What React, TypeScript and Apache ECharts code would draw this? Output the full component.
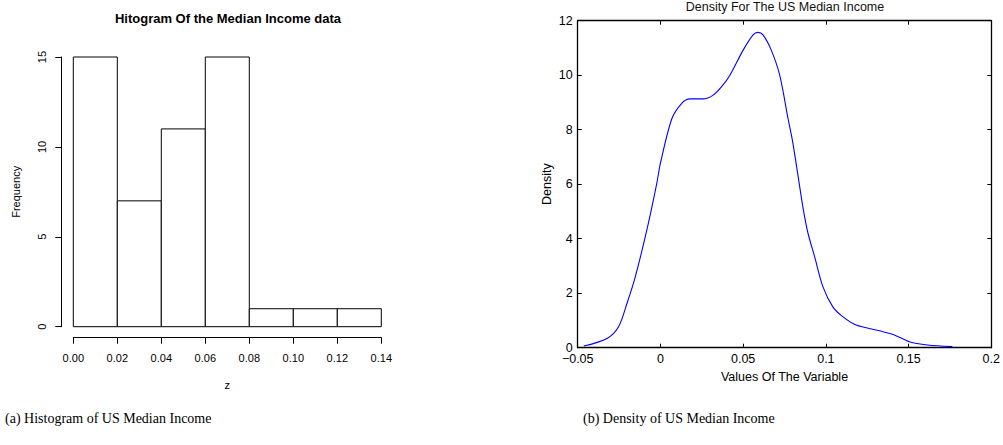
import React, { useEffect, useRef } from "react";
import * as echarts from "echarts";

// Histogram data
const binEdges = [0.0, 0.02, 0.04, 0.06, 0.08, 0.1, 0.12, 0.14];
const binCounts = [15, 7, 11, 15, 1, 1, 1];

// Density curve
const densityX = [
  -0.0463, -0.0323, -0.0253, -0.0202, -0.0152, -0.0082, -0.0022, 0.0, 0.0069, 0.0129,
  0.0179, 0.0259, 0.0319, 0.037, 0.042, 0.05, 0.056, 0.059, 0.062, 0.067,
  0.0721, 0.0771, 0.0801, 0.0861, 0.0892, 0.0932, 0.0982, 0.1042, 0.1102, 0.1183,
  0.1323, 0.1414, 0.1504, 0.1614, 0.1765,
];
const densityY = [
  0.06, 0.34, 0.77, 1.63, 2.6, 4.32, 6.03, 6.77, 8.4, 8.97,
  9.13, 9.13, 9.27, 9.58, 10.0, 10.92, 11.48, 11.57, 11.48, 10.92,
  10.0, 8.42, 7.5, 5.17, 4.2, 3.34, 2.24, 1.5, 1.14, 0.83,
  0.62, 0.47, 0.22, 0.1, 0.04,
];

const leftTitle = "Hitogram Of the Median Income data";
const rightTitle = "Density For The US Median Income";
const captionA = "(a) Histogram of US Median Income";
const captionB = "(b) Density of US Median Income";

const SANS = "'Liberation Sans', Arial, Helvetica, sans-serif";
const SERIF = "'Liberation Serif', 'DejaVu Serif', serif";

export default function App() {
  const ref = useRef<HTMLDivElement>(null);
  useEffect(() => {
    if (!ref.current) return;
    const chart = echarts.init(ref.current, null, { renderer: "svg" });
    const histData = binCounts.map((c, i) => [binEdges[i], binEdges[i + 1], c]);
    const densData = densityX.map((x, i) => [x, densityY[i]]);
    const txt = { color: "#000", fontFamily: SANS };
    const fmtRight = (v: number) => {
      if (Math.abs(v) < 1e-9) return "0";
      const s = String(+Math.abs(v).toFixed(2));
      return (v < 0 ? "\u2212" : "") + s;
    };
    chart.setOption({
      animation: false,
      backgroundColor: "#fff",
      grid: [
        { left: 73.3, top: 57, width: 308, height: 269.7 },
        { left: 577.7, top: 20.7, width: 415, height: 327 },
      ],
      xAxis: [
        {
          type: "value", gridIndex: 0, min: 0, max: 0.14, interval: 0.02, offset: 11,
          name: "z", nameLocation: "middle", nameGap: 42,
          nameTextStyle: { ...txt, fontSize: 11 },
          axisLine: { show: true, onZero: false, lineStyle: { color: "#000", width: 1 } },
          axisTick: { show: true, length: 6, lineStyle: { color: "#000" } },
          axisLabel: { ...txt, fontSize: 11, margin: 15, formatter: (v: number) => v.toFixed(2) },
          splitLine: { show: false },
        },
        {
          type: "value", gridIndex: 1, min: -0.05, max: 0.2, interval: 0.05,
          name: "Values Of The Variable", nameLocation: "middle", nameGap: 17,
          nameTextStyle: { ...txt, fontSize: 12.5 },
          axisLine: { show: true, onZero: false, lineStyle: { color: "#000", width: 1.3 } },
          axisTick: { show: true, inside: true, length: 4, lineStyle: { color: "#000" } },
          axisLabel: { ...txt, fontSize: 12.5, lineHeight: 11, margin: 6, formatter: fmtRight },
          splitLine: { show: false },
        },
        {
          type: "value", gridIndex: 1, position: "top", min: -0.05, max: 0.2, interval: 0.05,
          axisLine: { show: true, onZero: false, lineStyle: { color: "#000", width: 1.3 } },
          axisTick: { show: true, inside: true, length: 4, lineStyle: { color: "#000" } },
          axisLabel: { show: false },
          splitLine: { show: false },
        },
      ],
      yAxis: [
        {
          type: "value", gridIndex: 0, min: 0, max: 15, interval: 5, offset: 12,
          name: "Frequency", nameLocation: "middle", nameGap: 40,
          nameTextStyle: { ...txt, fontSize: 11 },
          axisLine: { show: true, onZero: false, lineStyle: { color: "#000", width: 1 } },
          axisTick: { show: true, length: 6, lineStyle: { color: "#000" } },
          axisLabel: { ...txt, fontSize: 11, margin: 14, rotate: 90 },
          splitLine: { show: false },
        },
        {
          type: "value", gridIndex: 1, min: 0, max: 12, interval: 2,
          name: "Density", nameLocation: "middle", nameGap: 24,
          nameTextStyle: { ...txt, fontSize: 12.5 },
          axisLine: { show: true, onZero: false, lineStyle: { color: "#000", width: 1.3 } },
          axisTick: { show: true, inside: true, length: 4, lineStyle: { color: "#000" } },
          axisLabel: { ...txt, fontSize: 12.5, lineHeight: 11, margin: 5 },
          splitLine: { show: false },
        },
        {
          type: "value", gridIndex: 1, position: "right", min: 0, max: 12, interval: 2,
          axisLine: { show: true, onZero: false, lineStyle: { color: "#000", width: 1.3 } },
          axisTick: { show: true, inside: true, length: 4, lineStyle: { color: "#000" } },
          axisLabel: { show: false },
          splitLine: { show: false },
        },
      ],
      series: [
        {
          type: "custom",
          xAxisIndex: 0,
          yAxisIndex: 0,
          encode: { x: [0, 1], y: 2 },
          data: histData,
          renderItem: (params: any, api: any) => {
            const p0 = api.coord([api.value(0), api.value(2)]);
            const p1 = api.coord([api.value(1), 0]);
            return {
              type: "rect",
              shape: { x: p0[0], y: p0[1], width: p1[0] - p0[0], height: p1[1] - p0[1] },
              style: { fill: "#fff", stroke: "#000", lineWidth: 1 },
            };
          },
        },
        {
          type: "line",
          xAxisIndex: 1,
          yAxisIndex: 1,
          data: densData,
          showSymbol: false,
          symbol: "none",
          smooth: 0.3,
          lineStyle: { color: "#0000ff", width: 1.1 },
        },
      ],
      graphic: [
        {
          type: "text", x: 228, y: 18,
          style: { text: leftTitle, fill: "#000", font: `bold 13px ${SANS}`, textAlign: "center", textVerticalAlign: "middle" },
        },
        {
          type: "text", x: 785, y: 7,
          style: { text: rightTitle, fill: "#111", font: `12.5px ${SANS}`, textAlign: "center", textVerticalAlign: "middle" },
        },
        {
          type: "text", x: 5, y: 418,
          style: { text: captionA, fill: "#000", font: `14px ${SERIF}`, textAlign: "left", textVerticalAlign: "middle" },
        },
        {
          type: "text", x: 583, y: 418,
          style: { text: captionB, fill: "#000", font: `14px ${SERIF}`, textAlign: "left", textVerticalAlign: "middle" },
        },
      ],
    });
    return () => chart.dispose();
  }, []);
  return (
    <div
      ref={ref}
      style={{ position: "fixed", left: 0, top: 0, width: 1003, height: 445, background: "#fff" }}
    />
  );
}
